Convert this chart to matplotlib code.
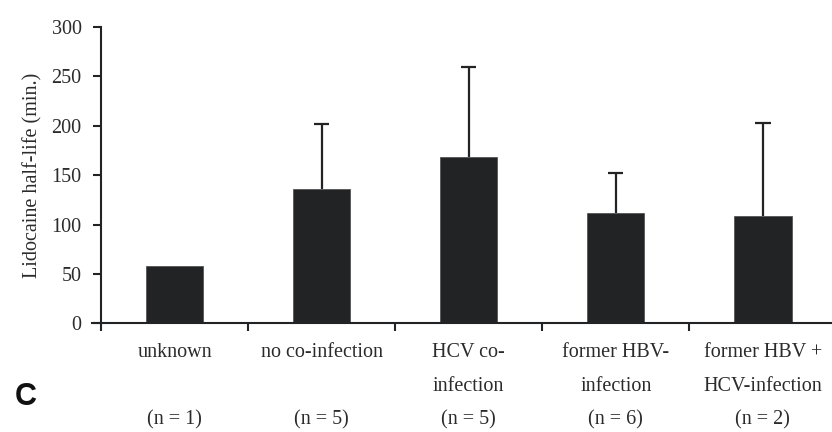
import matplotlib.pyplot as plt
import numpy as np

categories = ['unknown', 'no co-infection', 'HCV co-\ninfection',
              'former HBV-\ninfection', 'former HBV +\nHCV-infection']
n_labels = ['(n = 1)', '(n = 5)', '(n = 5)', '(n = 6)', '(n = 2)']
half_life = [58, 136, 168, 112, 109]
# upper SD only, first group has n = 1
sd_upper = [0, 66, 91, 40, 94]

dark = '#222324'
txt = '#2b2b2b'

plt.rcParams['font.family'] = ['Liberation Serif', 'DejaVu Serif']

fig = plt.figure(figsize=(8.32, 4.32), dpi=100)
ax = fig.add_axes([101 / 832, 1 - 323.3 / 432, 1 - 101 / 832, 296.3 / 432])

x = np.arange(len(categories))
ax.bar(x, half_life, width=0.39, color=dark, edgecolor='#555555', linewidth=0.6, zorder=2)

# one-sided error bars (stem + cap), drawn behind the bars
for i in range(len(x)):
    if sd_upper[i] <= 0:
        continue
    top = half_life[i] + sd_upper[i]
    ax.vlines(x[i], half_life[i], top, color=dark, linewidth=1.6, zorder=1)
    ax.hlines(top, x[i] - 0.052, x[i] + 0.052, color=dark, linewidth=1.6, zorder=1)

ax.set_xlim(-0.5, 4.47)
ax.set_ylim(0, 300)
ax.set_yticks([0, 50, 100, 150, 200, 250, 300])
ax.set_xticks([-0.5, 0.5, 1.5, 2.5, 3.5])
ax.set_xticklabels([])

for s in ['top', 'right']:
    ax.spines[s].set_visible(False)
for s in ['left', 'bottom']:
    ax.spines[s].set_linewidth(1.5)
    ax.spines[s].set_color(dark)
ax.spines['bottom'].set_bounds(-0.56, 4.47)

ax.tick_params(axis='both', direction='out', length=6, width=1.5, color=dark,
               labelsize=14.5, labelcolor=txt)
ax.tick_params(axis='y', pad=8)

ax.set_ylabel('Lidocaine half-life (min.)', fontsize=14.5, color=txt)
ax.yaxis.set_label_coords(-0.08, 0.5)

tr = ax.get_xaxis_transform()
for i in range(len(categories)):
    ax.text(x[i], -0.068, categories[i], transform=tr, ha='center', va='top',
            fontsize=14.5, color=txt, linespacing=2.05)
    ax.text(x[i], -0.325, n_labels[i], transform=tr, ha='center', va='center',
            fontsize=14.5, color=txt)

fig.text(26 / 832, 1 - 397 / 432, 'C', fontsize=22, fontweight='bold',
         family='Liberation Sans', ha='center', va='center', color='#111111')

fig.savefig('out.png', dpi=100)
